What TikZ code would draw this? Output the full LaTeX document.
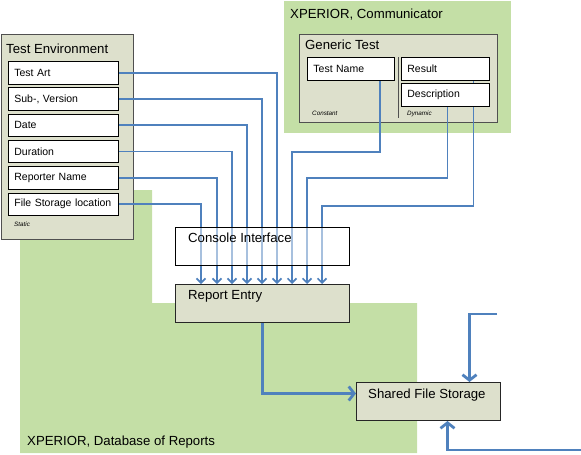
\documentclass[tikz,border=0pt]{standalone}
\usepackage{fontspec}
\setmainfont{Liberation Sans}
\usetikzlibrary{positioning,arrows.meta}

\definecolor{regiongreen}{RGB}{196,223,166}
\definecolor{boxgray}{RGB}{221,224,204}
\definecolor{linkblue}{RGB}{79,129,189}
\definecolor{framegray}{RGB}{80,80,80}

\tikzset{
  panel/.style={draw=framegray, line width=1pt, fill=boxgray, anchor=north west, inner sep=0pt},
  field/.style={draw=black, line width=0.8pt, fill=white, anchor=north west, inner xsep=6pt,
    inner ysep=0pt, minimum height=22.5pt, align=left, font=\fontsize{10.5}{12}\selectfont},
  title/.style={anchor=base west, inner sep=0pt, font=\fontsize{13.2}{15}\selectfont},
  note/.style={anchor=base west, inner sep=0pt, font=\fontsize{6.3}{7}\selectfont\itshape},
  link/.style={draw=linkblue, line width=1.7pt, -{Straight Barb[length=4.5pt,width=9pt]}},
  flow/.style={draw=linkblue, line width=2.8pt, -{Straight Barb[length=5.5pt,width=14pt]}}
}

\begin{document}
\begin{tikzpicture}[x=1pt,y=-1pt]
  \useasboundingbox (0,0) rectangle (581,455);

  % green regions
  \fill[regiongreen] (20,190) -| (152,303) -| (417,453) -| cycle;
  \fill[regiongreen] (284,1) rectangle (511,133);
  \node[title] (dblabel) at (27,445) {XPERIOR, Database of Reports};
  \node[title] (comlabel) at (290,18) {XPERIOR, Communicator};

  % test environment
  \node[panel, minimum width=132, minimum height=205] (env) at (1,34) {};
  \node[title] (envlabel) at (6,53) {Test Environment};
  \node[field, text width=98] (ta) at (8,61) {Test Art};
  \node[field, text width=98, below=3pt of ta] (sv) {Sub-, Version};
  \node[field, text width=98, below=3pt of sv] (dt) {Date};
  \node[field, text width=98, below=3pt of dt] (du) {Duration};
  \node[field, text width=98, below=3pt of du] (rn) {Reporter Name};
  \node[field, text width=98, below=3pt of rn] (fs) {File Storage location};
  \node[note] (static) at (14,226) {Static};

  % generic test
  \node[panel, minimum width=198, minimum height=88] (gt) at (299,34) {};
  \node[title] (gtlabel) at (305,49.5) {Generic Test};
  \node[field, text width=75, minimum height=23] (tn) at (307,57) {Test Name};
  \node[field, text width=76, minimum height=23] (res) at (401,57) {Result};
  \draw[framegray, line width=1pt] (398,57) -- (398,118);
  \node[note] (const) at (312,115) {Constant};
  \node[note] (dyn) at (407,115) {Dynamic};

  % report entry and storage
  \node[panel, draw=black!85, minimum width=174, minimum height=38] (re) at (175,284) {};
  \node[title] (relabel) at (188,299) {Report Entry};
  \node[panel, draw=black!85, minimum width=144, minimum height=38] (sfs) at (356,382) {};
  \node[title] (sfslabel) at (368,398) {Shared File Storage};

  \foreach \src/\dx in {ta/102,sv/87,dt/72,du/57,rn/42,fs/26}
    \draw[link] (\src.east) -| ([xshift=\dx pt]re.north west);
  \draw[link] ([xshift=-15pt]tn.south east) -- ++(0,71) -| ([xshift=117pt]re.north west);
  \draw[link] ([xshift=28pt]res.south) -- ++(0,125) -| ([xshift=147pt]re.north west);

  \node[field, text width=76, minimum height=23, below=2.5pt of res] (desc) {Description};
  \draw[link] ([xshift=2pt]desc.south) -- ++(0,71) -| ([xshift=132pt]re.north west);

  % console interface over the links
  \node[draw=black, line width=0.8pt, fill=white, fill opacity=0.5, anchor=north west,
    minimum width=174, minimum height=38] (ci) at (175,227) {};
  \node[title] (cilabel) at (188,242) {Console Interface};

  \draw[flow] (re.south) |- ([yshift=8pt]sfs.west);
  \coordinate (inA) at (497,314);
  \coordinate (inB) at (581,450);
  \draw[flow] (inA) -| ([xshift=41pt]sfs.north);
  \draw[flow] (inB) -| ([xshift=19pt]sfs.south);
\end{tikzpicture}
\end{document}
